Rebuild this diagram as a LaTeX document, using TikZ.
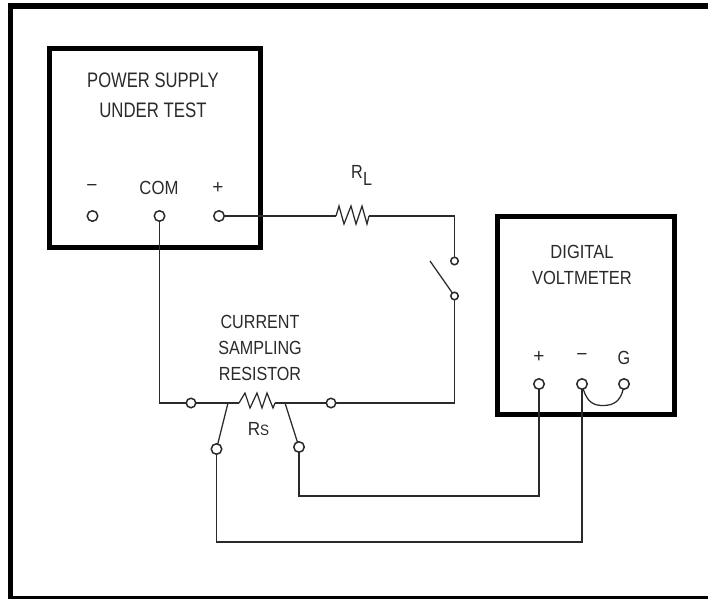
\documentclass[tikz,border=0pt]{standalone}
\usepackage{fontspec}
\setmainfont{Liberation Sans}
\definecolor{inkc}{HTML}{2A2A2A}
\newcommand{\narrow}[2]{\scalebox{#1}[1]{#2}}
\tikzset{
  x=1pt,y=-1pt,
  framebox/.style={draw=black,line width=5pt,inner sep=0pt,outer sep=0pt},
  term/.style={circle,draw=inkc,fill=white,line width=1.5pt,minimum size=10.5pt,inner sep=0pt},
  wire/.style={draw=inkc,line width=1.25pt,line join=miter},
  thinz/.style={draw=inkc,line width=1.25pt,line join=miter},
  lab/.style={inner sep=0pt,text=inkc,font=\fontsize{21}{21}\selectfont},
  labm/.style={inner sep=0pt,text=inkc,font=\fontsize{19}{19}\selectfont}
}
\begin{document}
\begin{tikzpicture}
\useasboundingbox (0,0) rectangle (708,599);
\fill[white] (0,0) rectangle (708,599);
% outer frame
\fill[black] (8,3) rectangle (708,9.5);
\fill[black] (8,3) rectangle (13,599);
\fill[black] (8,596) rectangle (708,599);
% boxes
\node[framebox,minimum width=211pt,minimum height=198.5pt] (ps) at (155,148.25) {};
\node[framebox,minimum width=177pt,minimum height=198pt] (dvm) at (585.5,315) {};
% helper points
\coordinate (rla) at (336,216);
\coordinate (rlb) at (369,216);
\coordinate (rsa) at (239,403);
\coordinate (rsb) at (275,403);
\coordinate (tapl) at (228,403);
\coordinate (tapr) at (285,403);
\coordinate (swtip) at (430,261);
% wires (below terminals)
\draw[wire] (219,216) coordinate (pplus) -- (rla);
\draw[wire] (rlb) -| (454.5,261) coordinate (swa);
\coordinate (swb) at (454.5,296);
\draw[wire] (swb) -- (swtip);
\draw[wire] (swb) |- (331,403) coordinate (s2);
\coordinate (s1) at (191,403);
\coordinate (pcom) at (159.5,216);
\draw[wire] (pcom) |- (s1);
\draw[wire] (s1) -- (rsa);
\draw[wire] (rsb) -- (s2);
\coordinate (b1) at (216.5,449);
\coordinate (b2) at (299,447);
\draw[wire] (tapl) -- (b1);
\draw[wire] (tapr) -- (b2);
\coordinate (vplus) at (539,384);
\coordinate (vminus) at (582,384);
\coordinate (vg) at (624,384);
\draw[wire] (b2) |- (539,496) -- (vplus);
\draw[wire] (b1) |- (582,542) -- (vminus);
\draw[wire] (vminus) .. controls (586,403) and (594,405.5) .. (603,405.5) .. controls (613,405.5) and (622,402) .. (vg);
% resistors
\draw[thinz] (rla) -- (339,206) -- (344,224) -- (351,206) -- (356,224) -- (362,206) -- (367,224) -- (rlb);
\draw[thinz] (rsa) -- (245,393) -- (250,408) -- (257,393) -- (262,408) -- (267,393) -- (273,408) -- (rsb);
% terminals
\node[term] (tm) at (92.5,216) {};
\node[term] (tc) at (pcom) {};
\node[term] (tp) at (pplus) {};
\node[term,minimum size=7.5pt] (ts1) at (swa) {};
\node[term,minimum size=7.5pt] (ts2) at (swb) {};
\node[term,minimum size=9.5pt] (r1) at (s1) {};
\node[term,minimum size=9.5pt] (r2) at (s2) {};
\node[term] (r3) at (216.5,449) {};
\node[term] (r4) at (299,447) {};
\node[term] (vp) at (vplus) {};
\node[term] (vm) at (vminus) {};
\node[term] (vgn) at (vg) {};
% labels
\node[lab] (l1) at (153,80) {\narrow{.79}{POWER SUPPLY}};
\node[lab] (l2) at (153,110) {\narrow{.8}{UNDER TEST}};
\node[labm] (l3) at (92,188) {\textminus};
\node[labm] (l4) at (159,188) {\narrow{.88}{COM}};
\node[labm] (l5) at (218,188) {+};
\node[labm,anchor=base west] (l6) at (351,178) {\narrow{.85}{R}};
\node[labm,anchor=base west] (l7) at (363,185) {\narrow{.85}{L}};
\node[labm] (l8) at (260,322) {\narrow{.85}{CURRENT}};
\node[labm] (l9) at (260,348) {\narrow{.85}{SAMPLING}};
\node[labm] (l10) at (260,374) {\narrow{.85}{RESISTOR}};
\node[labm,anchor=base] (l11) at (258.5,435) {\narrow{.9}{R{\fontsize{15}{15}\selectfont S}}};
\node[labm] (l12) at (582,252) {\narrow{.87}{DIGITAL}};
\node[labm] (l13) at (582,278) {\narrow{.87}{VOLTMETER}};
\node[labm] (l14) at (539,357) {+};
\node[labm] (l15) at (582,357) {\textminus};
\node[labm] (l16) at (624,358) {\narrow{.85}{G}};
\end{tikzpicture}
\end{document}
